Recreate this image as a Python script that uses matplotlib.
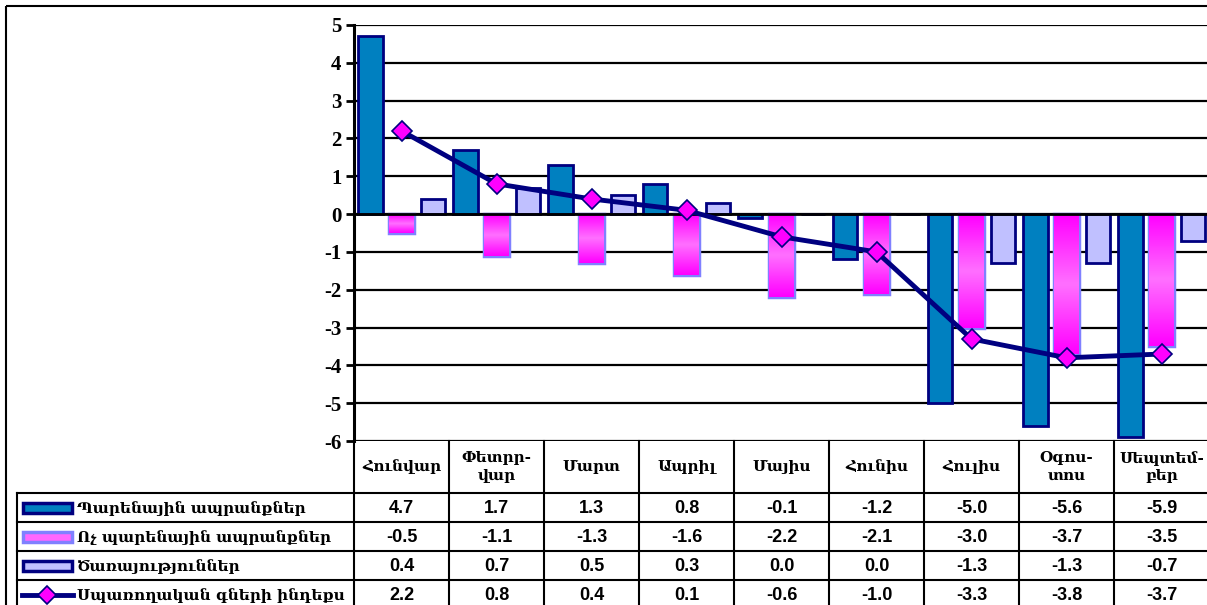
import matplotlib
matplotlib.use('Agg')
import matplotlib.pyplot as plt
import numpy as np
from matplotlib.patches import Rectangle
from matplotlib.colors import LinearSegmentedColormap

# month labels (table header)
MONTHS = ['Հունվար', 'Փետրր-\nվար', 'Մարտ', 'Ապրիլ', 'Մայիս',
          'Հունիս', 'Հուլիս', 'Օգոս-\nտոս', 'Սեպտեմ-\nբեր']

SERIES_NAMES = ['Պարենային ապրանքներ', 'Ոչ պարենային ապրանքներ',
                'Ծառայություններ', 'Սպառողական գների ինդեքս']

food = [4.7, 1.7, 1.3, 0.8, -0.1, -1.2, -5.0, -5.6, -5.9]
nonfood = [-0.5, -1.1, -1.3, -1.6, -2.2, -2.1, -3.0, -3.7, -3.5]
services = [0.4, 0.7, 0.5, 0.3, 0.0, 0.0, -1.3, -1.3, -0.7]
cpi = [2.2, 0.8, 0.4, 0.1, -0.6, -1.0, -3.3, -3.8, -3.7]

NAVY = '#000080'
BLUE = '#0080C0'
LAV = '#C0C0FF'
PINK_EDGE = '#8080FF'
MAGENTA = '#FF00FF'

ARM = ['DejaVu Serif', 'DejaVu Sans']
W, H = 1207, 605


def main():
    plt.rcParams['axes.unicode_minus'] = False
    fig = plt.figure(figsize=(W / 100, H / 100), dpi=100)

    # overlay in pixel coordinates for frame and table
    ov = fig.add_axes([0, 0, 1, 1], zorder=0)
    ov.set_xlim(0, W)
    ov.set_ylim(H, 0)
    ov.axis('off')

    left, right, top, bottom = 354, 1209, 25, 441
    ax = fig.add_axes([left / W, 1 - bottom / H, (right - left) / W, (bottom - top) / H], zorder=2)
    ax.patch.set_alpha(0)

    x = np.arange(len(MONTHS))
    off, bw = 0.33, 0.26

    ax.bar(x - off, food, bw, color=BLUE, edgecolor=NAVY, linewidth=2, zorder=3)
    pink = ax.bar(x, nonfood, bw, color=MAGENTA, edgecolor=PINK_EDGE, linewidth=2.5, zorder=3)
    ax.bar(x + off, services, bw, color=LAV, edgecolor=NAVY, linewidth=2, zorder=3)

    # vertical gradient inside the pink bars
    cmap = LinearSegmentedColormap.from_list('pk', [MAGENTA, '#FF70FF', MAGENTA])
    grad = np.linspace(0, 1, 64).reshape(-1, 1)
    for b in pink:
        x0, y0 = b.get_x(), b.get_y()
        im = ax.imshow(grad, cmap=cmap, aspect='auto', zorder=3.1,
                       extent=[x0, x0 + b.get_width(), y0, y0 + b.get_height()])
        im.set_clip_path(b)

    ax.plot(x, cpi, color=NAVY, linewidth=3.5, marker='D', markersize=10,
            markerfacecolor=MAGENTA, markeredgecolor=NAVY, markeredgewidth=1.2, zorder=5)

    ax.set_xlim(-0.5, len(MONTHS) - 0.5)
    ax.set_ylim(-6, 5)
    ax.set_yticks(range(-6, 6))
    ax.yaxis.grid(True, color='black', linewidth=1.6, zorder=1)
    ax.axhline(0, color='black', linewidth=2, zorder=4)
    ax.set_xticks([])
    for s in ['top', 'right', 'bottom']:
        ax.spines[s].set_visible(False)
    ax.spines['left'].set_linewidth(2.2)
    ax.tick_params(axis='y', length=6, width=2, pad=3)
    for t in ax.get_yticklabels():
        t.set_fontfamily('Liberation Serif')
        t.set_fontweight('bold')
        t.set_fontsize(15)

    # outer frame
    ov.add_patch(Rectangle((6, 6), 1400, 800, fill=False, edgecolor='black', linewidth=1.5))

    # data table
    colw = (right - left) / len(MONTHS)
    lab_left = 17
    head_bot = 493
    rowh = 29
    lw = 1.5
    nrow = 4
    ybot = head_bot + rowh * nrow
    for k in range(len(MONTHS) + 1):
        ov.plot([left + k * colw] * 2, [bottom, ybot], color='black', linewidth=lw)
    ov.plot([lab_left, lab_left], [head_bot, ybot], color='black', linewidth=lw)
    for r in range(nrow + 1):
        ov.plot([lab_left, right], [head_bot + r * rowh] * 2, color='black', linewidth=lw)

    for k, m in enumerate(MONTHS):
        ov.text(left + (k + 0.5) * colw, (bottom + head_bot) / 2, m, ha='center', va='center',
                fontsize=11, fontweight='bold', family=ARM, linespacing=1.3)

    rows = [food, nonfood, services, cpi]
    for r, vals in enumerate(rows):
        yc = head_bot + (r + 0.5) * rowh
        for k, v in enumerate(vals):
            ov.text(left + (k + 0.5) * colw, yc + 1, f'{v:.1f}', ha='center', va='center',
                    fontsize=13, fontweight='bold', family='Liberation Sans')
        ov.text(77, yc + 1, SERIES_NAMES[r], ha='left', va='center',
                fontsize=11, fontweight='bold', family=ARM)

    # legend keys
    keys = [(BLUE, NAVY), ('#FF66FF', PINK_EDGE), (LAV, NAVY)]
    for r, (fc, ec) in enumerate(keys):
        yc = head_bot + (r + 0.5) * rowh
        ov.add_patch(Rectangle((23, yc - 5), 49, 10, facecolor=fc, edgecolor=ec, linewidth=2.5))
    yc = head_bot + 3.5 * rowh
    ov.plot([22, 73], [yc, yc], color=NAVY, linewidth=3.5)
    ov.plot([47], [yc], marker='D', markersize=9, markerfacecolor=MAGENTA,
            markeredgecolor=NAVY, markeredgewidth=1.2)

    fig.savefig('out.png', dpi=100)


if __name__ == '__main__':
    main()
